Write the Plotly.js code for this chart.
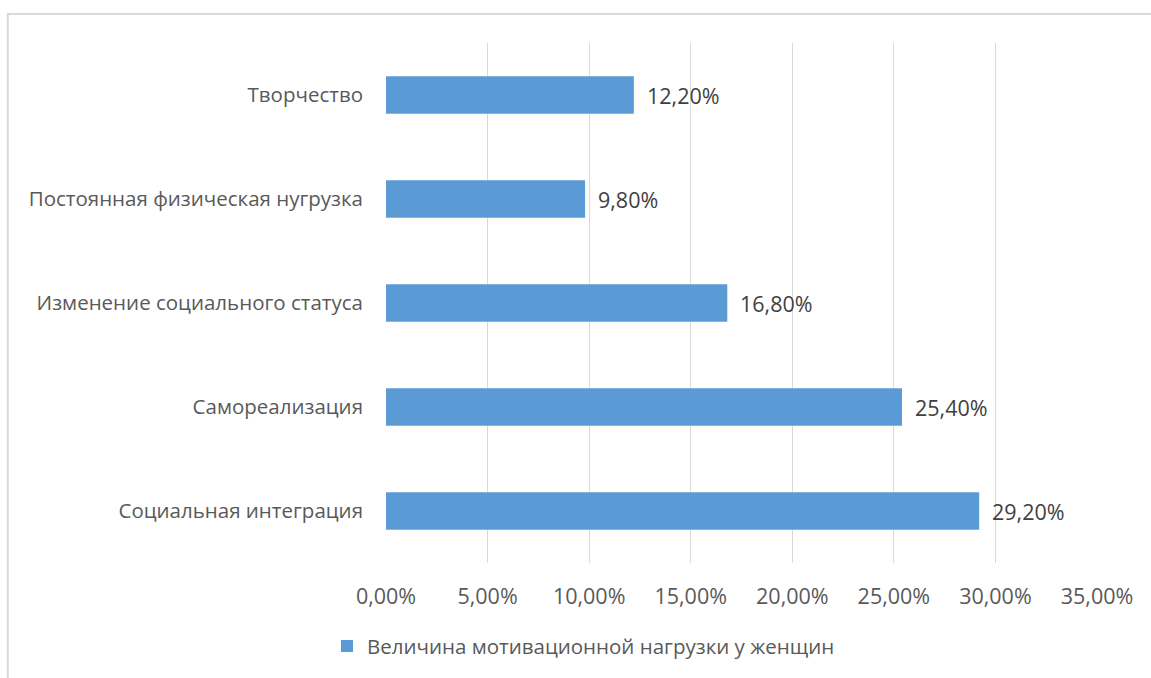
<!DOCTYPE html>
<html>
<head>
<meta charset="utf-8">
<script src="https://cdn.plot.ly/plotly-3.0.1.min.js"></script>
<style>
html,body{margin:0;padding:0;background:#fff;}
#chart{width:1151px;height:678px;}
</style>
</head>
<body>
<div id="chart"></div>
<script>
// Data (bottom to top)
var categories = ["Социальная интеграция", "Самореализация", "Изменение социального статуса", "Постоянная физическая нугрузка", "Творчество"];
var values = [0.292, 0.254, 0.168, 0.098, 0.122];
var valueLabels = ["29,20%", "25,40%", "16,80%", "9,80%", "12,20%"];
var tickValues = [0, 0.05, 0.10, 0.15, 0.20, 0.25, 0.30, 0.35];
var seriesName = "Величина мотивационной нагрузки у женщин";

var FONT = "Open Sans, Noto Sans, sans-serif";

var trace = {
  type: "bar",
  orientation: "h",
  y: categories,
  x: values,
  name: seriesName,
  width: 0.36,
  marker: {color: "#5b9bd5"},
  hoverinfo: "none"
};

var annotations = categories.map(function(c, i){
  return {
    x: values[i], y: c, xref: "x", yref: "y",
    text: valueLabels[i], showarrow: false,
    xanchor: "left", yanchor: "middle", xshift: 11,
    font: {family: FONT, size: 21.5, color: "#404040"}
  };
});

var layout = {
  width: 1151, height: 678,
  margin: {l: 386, r: 54, t: 43, b: 113, pad: 0},
  paper_bgcolor: "#ffffff",
  plot_bgcolor: "#ffffff",
  separators: ", ",
  showlegend: true,
  bargap: 0.64,
  xaxis: {
    range: [0, 0.35],
    tickvals: tickValues,
    tickformat: ".2%",
    showgrid: true,
    gridcolor: "#d9d9d9",
    gridwidth: 1,
    zeroline: false,
    showline: false,
    ticks: "",
    ticklabelstandoff: 18,
    tickfont: {family: FONT, size: 21.5, color: "#595959"},
    fixedrange: true
  },
  yaxis: {
    type: "category",
    categoryorder: "array",
    categoryarray: categories,
    showgrid: false,
    zeroline: false,
    showline: false,
    ticks: "",
    ticklabelstandoff: 22,
    tickfont: {family: FONT, size: 20.5, color: "#595959"},
    fixedrange: true
  },
  legend: {
    orientation: "h",
    x: -0.083, xanchor: "left",
    y: -0.16, yanchor: "middle",
    font: {family: FONT, size: 20.5, color: "#595959"},
    itemwidth: 30
  },
  annotations: annotations,
  shapes: [{
    type: "rect", xref: "paper", yref: "paper",
    x0: -0.532, x1: 1.2, y0: -0.5, y1: 1.0556,
    line: {color: "#d9d9d9", width: 2},
    fillcolor: "rgba(0,0,0,0)",
    layer: "below"
  }]
};

Plotly.newPlot("chart", [trace], layout, {displayModeBar: false, staticPlot: true});
</script>
</body>
</html>
